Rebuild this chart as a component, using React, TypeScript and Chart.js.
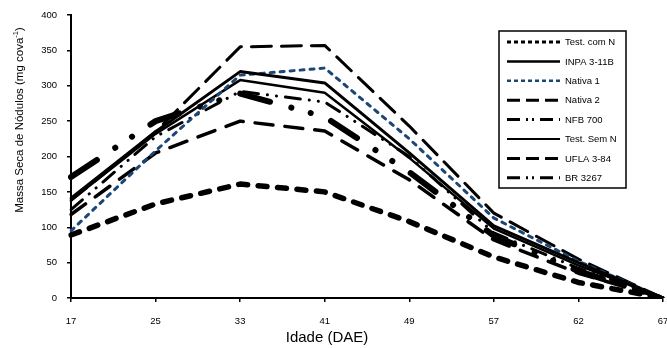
import React, { useEffect, useRef } from "react";
import { Chart, registerables } from "chart.js";

Chart.register(...registerables);

const categories = ["17", "25", "33", "41", "49", "57", "62", "67"];
const seriesNames = [
  "Test. com N",
  "INPA 3-11B",
  "Nativa 1",
  "Nativa 2",
  "NFB 700",
  "Test. Sem N",
  "UFLA 3-84",
  "BR 3267",
];
const testComN = [89, 133, 161, 150, 108, 58, 22, 0];
const inpa = [141, 235, 320, 304, 205, 102, 50, 0];
const nativa1 = [95, 208, 315, 325, 225, 113, 52, 0];
const nativa2 = [118, 205, 250, 236, 167, 82, 35, 0];
const nfb700 = [125, 228, 292, 277, 200, 92, 42, 0];
const testSemN = [138, 232, 308, 290, 198, 98, 46, 0];
const ufla = [138, 235, 355, 357, 243, 120, 55, 0];
const br3267 = [171, 250, 289, 256, 178, 88, 38, 0];
const yTicks = [0, 50, 100, 150, 200, 250, 300, 350, 400];

const FONT = "'Liberation Sans', Arial, sans-serif";
const BLUE = "#1b4676";

const lineStyles = [
  { color: "#000", width: 5.5, dash: [9, 10.5] },
  { color: "#000", width: 3, dash: [] },
  { color: BLUE, width: 3, dash: [4, 6] },
  { color: "#000", width: 3.5, dash: [18, 12] },
  { color: "#000", width: 3, dash: [15, 9, 0.1, 9, 0.1, 9] },
  { color: "#000", width: 2.5, dash: [] },
  { color: "#000", width: 3, dash: [20, 10] },
  { color: "#000", width: 6, dash: [31, 22, 0.1, 20, 0.1, 22] },
];
const legendStyles = [
  { width: 3, dash: [4, 3], cap: "butt" },
  { width: 2.5, dash: [], cap: "butt" },
  { width: 2.5, dash: [4, 3], cap: "butt" },
  { width: 3, dash: [13, 6], cap: "butt" },
  { width: 3, dash: [13, 6, 2, 4, 2, 6], cap: "butt" },
  { width: 2, dash: [], cap: "butt" },
  { width: 3, dash: [13, 6], cap: "butt" },
  { width: 3, dash: [13, 6, 2, 4, 2, 6], cap: "butt" },
];

const allSeries = [testComN, inpa, nativa1, nativa2, nfb700, testSemN, ufla, br3267];

const customPlugin = {
  id: "customDecor",
  afterDraw(chart: any) {
    const ctx = chart.ctx;
    const ca = chart.chartArea;
    ctx.save();
    // legend box
    const lx = ca.right - 164;
    const ly = ca.top + 16;
    const lw = 127;
    const lh = 157;
    ctx.fillStyle = "#fff";
    ctx.fillRect(lx, ly, lw, lh);
    ctx.strokeStyle = "#000";
    ctx.lineWidth = 1.5;
    ctx.setLineDash([]);
    ctx.strokeRect(lx, ly, lw, lh);
    ctx.font = `9.5px ${FONT}`;
    ctx.textBaseline = "middle";
    ctx.textAlign = "left";
    chart.data.datasets.forEach((ds: any, i: number) => {
      const y = ly + 11 + i * 19.4;
      const st = legendStyles[i];
      ctx.beginPath();
      ctx.strokeStyle = ds.borderColor;
      ctx.lineWidth = st.width;
      ctx.lineCap = st.cap;
      ctx.setLineDash(st.dash);
      ctx.moveTo(lx + 8, y);
      ctx.lineTo(lx + 61, y);
      ctx.stroke();
      ctx.setLineDash([]);
      ctx.fillStyle = "#000";
      ctx.fillText(ds.label, lx + 66, y + 0.5);
    });
    // x title
    ctx.font = `15px ${FONT}`;
    ctx.textAlign = "center";
    ctx.fillStyle = "#000";
    ctx.fillText("Idade (DAE)", ca.left + 256, 338);
    // y title with superscript
    const main = "Massa Seca de Nódulos (mg cova";
    const sup = "-1";
    const end = ")";
    ctx.translate(20, ca.top + 105);
    ctx.rotate(-Math.PI / 2);
    ctx.font = `11.5px ${FONT}`;
    const w1 = ctx.measureText(main).width;
    const w3 = ctx.measureText(end).width;
    ctx.font = `7.5px ${FONT}`;
    const w2 = ctx.measureText(sup).width;
    const total = w1 + w2 + w3;
    let x0 = -total / 2;
    ctx.textAlign = "left";
    ctx.textBaseline = "middle";
    ctx.font = `11.5px ${FONT}`;
    ctx.fillText(main, x0, 0);
    ctx.font = `7.5px ${FONT}`;
    ctx.fillText(sup, x0 + w1, -4);
    ctx.font = `11.5px ${FONT}`;
    ctx.fillText(end, x0 + w1 + w2, 0);
    ctx.restore();
  },
};

export default function App() {
  const ref = useRef<HTMLCanvasElement>(null);
  useEffect(() => {
    if (!ref.current) return;
    const chart = new Chart(ref.current, {
      type: "line",
      data: {
        labels: categories,
        datasets: allSeries.map((vals, i) => ({
          label: seriesNames[i],
          data: vals,
          borderColor: lineStyles[i].color,
          backgroundColor: lineStyles[i].color,
          borderWidth: lineStyles[i].width,
          borderDash: lineStyles[i].dash,
          borderCapStyle: "round",
          borderJoinStyle: "round",
          pointRadius: 0,
          tension: 0,
          fill: false,
        })),
      },
      options: {
        animation: false,
        responsive: false,
        maintainAspectRatio: false,
        layout: { padding: { top: 15, right: 4, left: 0, bottom: 0 } },
        plugins: { legend: { display: false }, tooltip: { enabled: false } },
        scales: {
          x: {
            type: "category",
            offset: false,
            grid: {
              display: true,
              drawOnChartArea: false,
              drawTicks: true,
              tickLength: 4,
              color: "#000",
              lineWidth: 1.5,
            },
            border: { display: true, color: "#000", width: 2 },
            ticks: {
              font: { size: 9.5, family: FONT },
              color: "#000",
              padding: 14,
              maxRotation: 0,
              autoSkip: false,
            },
            afterFit: (s: any) => {
              s.height = 50;
              s.paddingLeft = 0;
              s.paddingRight = 0;
            },
          },
          y: {
            min: 0,
            max: 400,
            afterBuildTicks: (s: any) => {
              s.ticks = yTicks.map((v) => ({ value: v }));
            },
            grid: {
              display: true,
              drawOnChartArea: false,
              drawTicks: true,
              tickLength: 4,
              color: "#000",
              lineWidth: 1.5,
            },
            border: { display: true, color: "#000", width: 2 },
            ticks: {
              font: { size: 9.5, family: FONT },
              color: "#000",
              padding: 10,
            },
            afterFit: (s: any) => {
              s.width = 71;
              s.paddingTop = 0;
              s.paddingBottom = 0;
            },
          },
        },
      },
      plugins: [customPlugin],
    });
    return () => chart.destroy();
  }, []);
  return (
    <div style={{ position: "fixed", left: 0, top: 0, width: 667, height: 348, background: "#fff" }}>
      <canvas ref={ref} width={667} height={348} style={{ width: 667, height: 348 }} />
    </div>
  );
}
